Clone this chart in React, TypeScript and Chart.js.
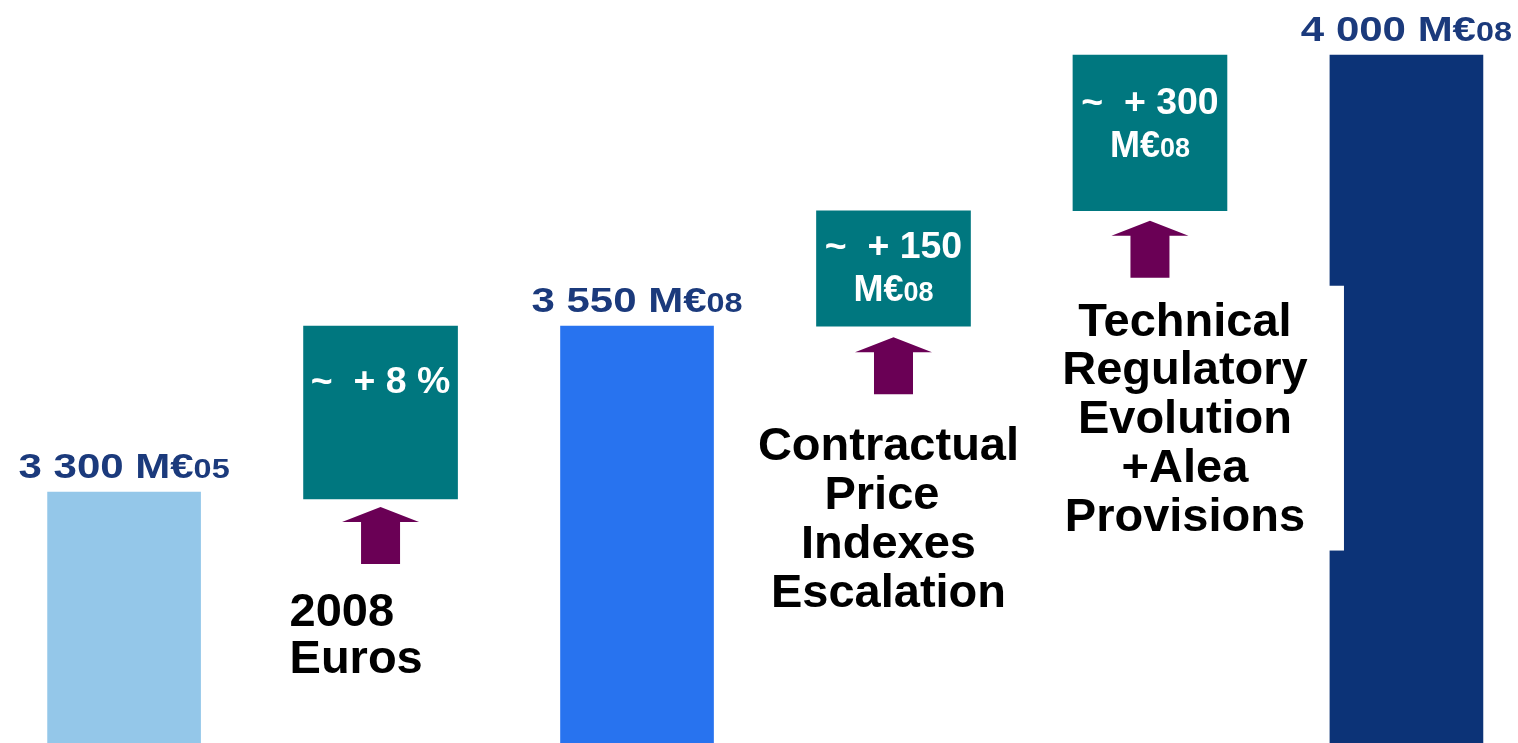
import { useEffect, useRef } from "react";
import { Chart, registerables } from "chart.js";

Chart.register(...registerables);

// ---------- data ----------
const totalSlots = [0, 2, 5];
const totalValues = [3300, 3550, 4000];
const totalLabelMain = ["3 300 M€", "3 550 M€", "4 000 M€"];
const totalLabelSub = ["05", "08", "08"];
const totalColors = ["#94C7E9", "#2873EF", "#0C3377"];

const stepSlots = [1, 3, 4];
const stepLow = [3290, 3550, 3735];
const stepHigh = [3550, 3735, 4000];
const stepLine1 = ["~  + 8 %", "~  + 150", "~  + 300"];
const stepLine2Main = ["", "M€", "M€"];
const stepLine2Sub = ["", "08", "08"];

const driverLines = [
  ["2008", "Euros"],
  ["Contractual", "Price ", "Indexes", "Escalation"],
  ["Technical", "Regulatory", "Evolution", "+Alea", "Provisions"],
];

// ---------- layout / style (not data) ----------
const W = 1518;
const H = 743;
const X_MIN = -0.4838;
const X_MAX = 5.435;
const Y_MIN = 2955;
const Y_MAX = 4098;
const FONT = '"Liberation Sans", Arial, Helvetica, sans-serif';
const STEP_COLOR = "#00777F";
const ARROW_COLOR = "#6A0055";
const VALUE_COLOR = "#1B3A7C";
const stepTextOffset = [54, 34, 46];
const arrowGap = [8, 11, 10];
const driverBaseOffset = [127, 134, 125];
const driverDx = [-91, -5, 35];
const driverAlign: CanvasTextAlign[] = ["left", "center", "center"];
const driverLineHeight = [47, 49, 48.7];

type Part = { text: string; size: number };

function drawRich(
  ctx: CanvasRenderingContext2D,
  parts: Part[],
  cx: number,
  baseline: number,
  sx: number,
  color: string
) {
  const widths = parts.map((p) => {
    ctx.font = `bold ${p.size}px ${FONT}`;
    return ctx.measureText(p.text).width;
  });
  const total = widths.reduce((a, b) => a + b, 0) * sx;
  ctx.save();
  ctx.translate(cx - total / 2, baseline);
  ctx.scale(sx, 1);
  ctx.fillStyle = color;
  ctx.textAlign = "left";
  ctx.textBaseline = "alphabetic";
  let x = 0;
  parts.forEach((p, i) => {
    ctx.font = `bold ${p.size}px ${FONT}`;
    ctx.fillText(p.text, x, 0);
    x += widths[i];
  });
  ctx.restore();
}

function drawArrow(ctx: CanvasRenderingContext2D, cx: number, tipY: number) {
  const h = 57;
  const hh = 15;
  const hw = 77 / 2;
  const sw = 39 / 2;
  ctx.save();
  ctx.fillStyle = ARROW_COLOR;
  ctx.beginPath();
  ctx.moveTo(cx, tipY);
  ctx.lineTo(cx + hw, tipY + hh);
  ctx.lineTo(cx + sw, tipY + hh);
  ctx.lineTo(cx + sw, tipY + h);
  ctx.lineTo(cx - sw, tipY + h);
  ctx.lineTo(cx - sw, tipY + hh);
  ctx.lineTo(cx - hw, tipY + hh);
  ctx.closePath();
  ctx.fill();
  ctx.restore();
}

const annotations = {
  id: "waterfallAnnotations",
  afterDatasetsDraw(chart: any) {
    const ctx: CanvasRenderingContext2D = chart.ctx;
    const xs = chart.scales.x;
    const ys = chart.scales.y;

    // value labels above totals
    totalSlots.forEach((slot, i) => {
      const cx = xs.getPixelForValue(slot);
      const top = ys.getPixelForValue(totalValues[i]);
      drawRich(
        ctx,
        [
          { text: totalLabelMain[i], size: 35 },
          { text: totalLabelSub[i], size: 27 },
        ],
        cx,
        top - 14,
        1.2,
        VALUE_COLOR
      );
    });

    // step boxes: text, arrows, driver labels
    stepSlots.forEach((slot, i) => {
      const cx = xs.getPixelForValue(slot);
      const top = ys.getPixelForValue(stepHigh[i]);
      const bottom = ys.getPixelForValue(stepLow[i]);

      const l1Center = top + stepTextOffset[i];
      drawRich(ctx, [{ text: stepLine1[i], size: 36 }], cx, l1Center + 13, 1.04, "#FFFFFF");
      if (stepLine2Main[i]) {
        drawRich(
          ctx,
          [
            { text: stepLine2Main[i], size: 36 },
            { text: stepLine2Sub[i], size: 27 },
          ],
          cx,
          l1Center + 43 + 13,
          1.0,
          "#FFFFFF"
        );
      }

      drawArrow(ctx, cx, bottom + arrowGap[i]);

      const lines = driverLines[i];
      const base0 = bottom + driverBaseOffset[i];
      const lx = cx + driverDx[i];
      ctx.save();
      if (i === 2) {
        ctx.fillStyle = "#FFFFFF";
        const lastBase = base0 + (lines.length - 1) * driverLineHeight[i];
        ctx.fillRect(cx - 100, base0 - 50, 294, lastBase + 20 - (base0 - 50));
      }
      ctx.fillStyle = "#000000";
      ctx.font = `bold 47px ${FONT}`;
      ctx.textAlign = driverAlign[i];
      ctx.textBaseline = "alphabetic";
      lines.forEach((t, k) => {
        ctx.fillText(t, lx, base0 + k * driverLineHeight[i]);
      });
      ctx.restore();
    });
  },
};

export default function App() {
  const ref = useRef<HTMLCanvasElement | null>(null);

  useEffect(() => {
    document.body.style.margin = "0";
    const canvas = ref.current;
    if (!canvas) return;
    const chart = new Chart(canvas, {
      type: "bar",
      data: {
        datasets: [
          {
            label: "Totals",
            data: totalSlots.map((s, i) => ({ x: s, y: totalValues[i] })) as any,
            backgroundColor: totalColors,
            grouped: false,
            barThickness: 153,
            borderWidth: 0,
          },
          {
            label: "Steps",
            data: stepSlots.map((s, i) => ({ x: s, y: [stepLow[i], stepHigh[i]] })) as any,
            backgroundColor: STEP_COLOR,
            grouped: false,
            barThickness: 154,
            borderWidth: 0,
          },
        ],
      },
      options: {
        animation: false,
        responsive: false,
        devicePixelRatio: 1,
        layout: { padding: 0 },
        scales: {
          x: {
            type: "linear",
            min: X_MIN,
            max: X_MAX,
            offset: false,
            display: false,
          },
          y: {
            type: "logarithmic",
            min: Y_MIN,
            max: Y_MAX,
            display: false,
          },
        },
        plugins: {
          legend: { display: false },
          tooltip: { enabled: false },
          title: { display: false },
        },
      },
      plugins: [annotations],
    });
    return () => chart.destroy();
  }, []);

  return (
    <div
      style={{
        position: "fixed",
        left: 0,
        top: 0,
        width: W,
        height: H,
        background: "#FFFFFF",
        overflow: "hidden",
      }}
    >
      <canvas ref={ref} width={W} height={H} style={{ display: "block" }} />
    </div>
  );
}
